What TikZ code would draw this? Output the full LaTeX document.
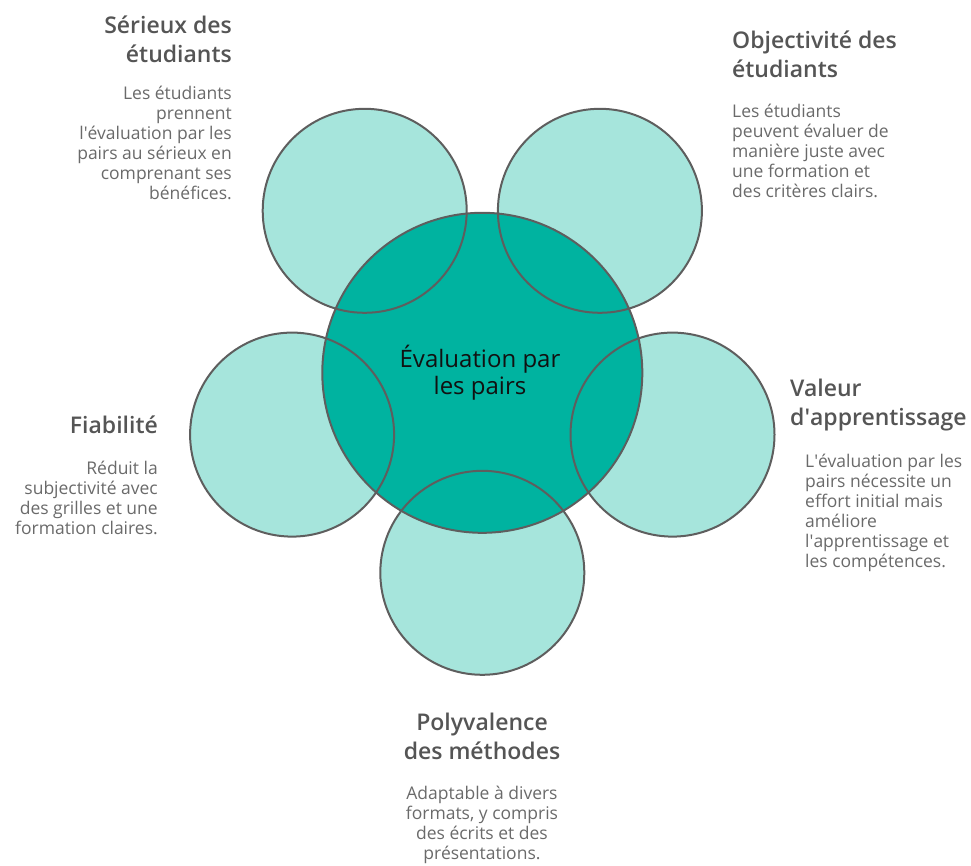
\documentclass[tikz,border=0pt]{standalone}
\usepackage{fontspec}
\setmainfont{Open Sans}
\IfFontExistsTF{Open Sans SemiBold}{\newfontfamily\ttlfam{Open Sans SemiBold}}{%
  \IfFontExistsTF{Open Sans Semibold}{\newfontfamily\ttlfam{Open Sans Semibold}}{\newcommand\ttlfam{\bfseries}}}
\newcommand\apos{\textquotesingle}
\definecolor{lightteal}{HTML}{A6E5DC}
\definecolor{darkteal}{HTML}{00B3A0}
\definecolor{edgegray}{HTML}{5E5E5E}
\definecolor{ttlgray}{HTML}{555555}
\definecolor{bodygray}{HTML}{6A6A6A}
\definecolor{centertxt}{HTML}{111111}
\tikzset{
  petal/.style={circle, fill=lightteal, minimum size=204pt, inner sep=0pt},
  hub/.style={circle, fill=darkteal, minimum size=320pt, inner sep=0pt},
  rim/.style={draw=edgegray, line width=2pt},
  ttl/.style={font=\ttlfam\fontsize{23}{29}\selectfont, text=ttlgray, inner sep=0pt},
  bodytxt/.style={font=\fontsize{17.5}{20}\selectfont, text=bodygray, inner sep=0pt},
  hubtxt/.style={font=\fontsize{24}{27}\selectfont, text=centertxt, inner sep=0pt, align=center}
}
\begin{document}
\begin{tikzpicture}[x=1pt, y=-1pt]
\useasboundingbox (0,0) rectangle (971,865);
% petals
\node[petal] (ptl) at (364.7,210.8) {};
\node[petal] (ptr) at (599.9,210.8) {};
\node[petal] (pl)  at (292.1,434.6) {};
\node[petal] (pr)  at (672.5,434.6) {};
\node[petal] (pb)  at (482.3,572.8) {};
% hub
\node[hub] (hub) at (482.3,372.8) {};
% outlines
\foreach \n in {ptl,ptr,pl,pr,pb} {\draw[rim] (\n.center) circle[radius=102pt];}
\draw[rim] (hub.center) circle[radius=160pt];
% centre text (anchor base = last line)
\node[hubtxt, anchor=base] (hubt) at (480,394) {Évaluation par\\les pairs};
% top-left
\node[ttl, anchor=base east, align=right] (ttltl) at (232,62) {Sérieux des\\étudiants};
\node[bodytxt, anchor=base east, align=right] (bdtl) at (232,199) {Les étudiants\\prennent\\l\apos évaluation par les\\pairs au sérieux en\\comprenant ses\\bénéfices.};
% top-right
\node[ttl, anchor=base west, align=left] (ttltr) at (732,77) {Objectivité des\\étudiants};
\node[bodytxt, anchor=base west, align=left] (bdtr) at (732,197) {Les étudiants\\peuvent évaluer de\\manière juste avec\\une formation et\\des critères clairs.};
% left
\node[ttl, anchor=base east, align=right] (ttll) at (158,433) {Fiabilité};
\node[bodytxt, anchor=base east, align=right] (bdl) at (158,534) {Réduit la\\subjectivité avec\\des grilles et une\\formation claires.};
% right
\node[ttl, anchor=base west, align=left] (ttlr) at (790,425) {Valeur\\d\apos apprentissage};
\node[bodytxt, anchor=base west, align=left] (bdr) at (805,567) {L\apos évaluation par les\\pairs nécessite un\\effort initial mais\\améliore\\l\apos apprentissage et\\les compétences.};
% bottom
\node[ttl, anchor=base, align=center] (ttlb) at (482,759) {Polyvalence\\des méthodes};
\node[bodytxt, anchor=base, align=center] (bdb) at (482,859) {Adaptable à divers\\formats, y compris\\des écrits et des\\présentations.};
\end{tikzpicture}
\end{document}
